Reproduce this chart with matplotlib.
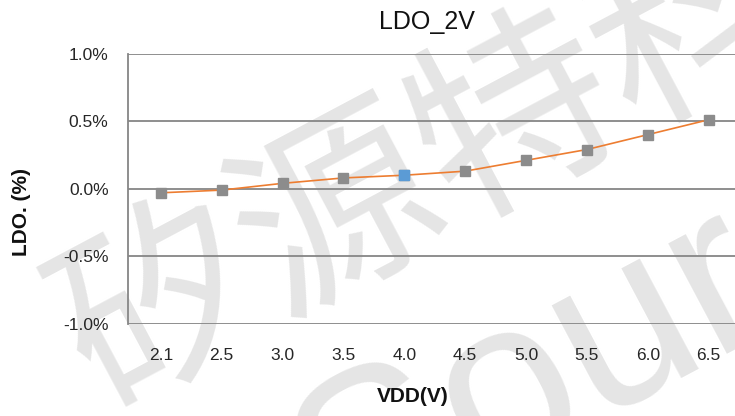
import matplotlib
matplotlib.use('Agg')
import matplotlib.pyplot as plt
import numpy as np

plt.rcParams['font.family'] = ['Liberation Sans', 'DejaVu Sans']

# supply voltage steps and measured LDO deviation (%)
vdd_labels = ['2.1', '2.5', '3.0', '3.5', '4.0', '4.5', '5.0', '5.5', '6.0', '6.5']
ldo_pct = [-0.03, -0.01, 0.04, 0.08, 0.10, 0.13, 0.21, 0.29, 0.40, 0.51]
nominal_idx = 4   # 4.0 V point, drawn in blue

y_ticks = [-1.0, -0.5, 0.0, 0.5, 1.0]

fig = plt.figure(figsize=(7.35, 4.16), dpi=100)
fig.patch.set_facecolor('white')

# watermark behind the plot
wm = '#e5e5e5'
fig.text(0.585, 0.59, '矽源特科', fontsize=145, color=wm, rotation=28,
         ha='center', va='center', rotation_mode='anchor', fontweight='medium',
         family=['Noto Sans CJK SC', 'DejaVu Sans'], zorder=-5)
fig.text(0.465, -0.33, 'Source', fontsize=170, color=wm, rotation=28,
         ha='left', va='baseline', rotation_mode='anchor', zorder=-5)

ax = fig.add_axes([128/735, 1-324/416, (739-128)/735, (324-53.5)/416])
ax.set_facecolor('none')

x = np.arange(len(vdd_labels))
ax.plot(x, ldo_pct, color='#ed7d31', lw=1.2, zorder=3)
ax.plot(x, ldo_pct, ls='none', marker='s', ms=7.5, mfc='#8c8c8c', mec='#8c8c8c', zorder=4)
ax.plot(x[nominal_idx], ldo_pct[nominal_idx], ls='none', marker='s', ms=7.5,
        mfc='#5b9bd5', mec='#5b9bd5', zorder=5)

ax.set_xlim(-0.54, 9.5)
ax.set_ylim(-1.0, 1.0)
ax.set_xticks(x)
ax.set_xticklabels(vdd_labels)
ax.set_yticks(y_ticks)
ax.set_yticklabels(['%.1f%%' % v for v in y_ticks])
ax.tick_params(length=0, labelsize=12.5, colors='#262626')
ax.tick_params(axis='y', pad=14)
ax.tick_params(axis='x', pad=17)

ax.grid(axis='y', color='#868686', lw=1.3)
ax.set_axisbelow(True)
for s in ['top', 'right', 'bottom']:
    ax.spines[s].set_visible(False)
ax.spines['left'].set_color('#868686')
ax.spines['left'].set_linewidth(1.3)

fig.text(0.581, 0.947, 'LDO_2V', fontsize=18, ha='center', va='center', color='#111111')
fig.text(0.562, 0.048, 'VDD(V)', fontsize=15, fontweight='bold', ha='center', va='center',
         color='#111111')
fig.text(22/735, 1-212/416, 'LDO. (%)', fontsize=15, fontweight='bold', rotation=90,
         ha='center', va='center', color='#111111')

fig.savefig('out.png', dpi=100)
